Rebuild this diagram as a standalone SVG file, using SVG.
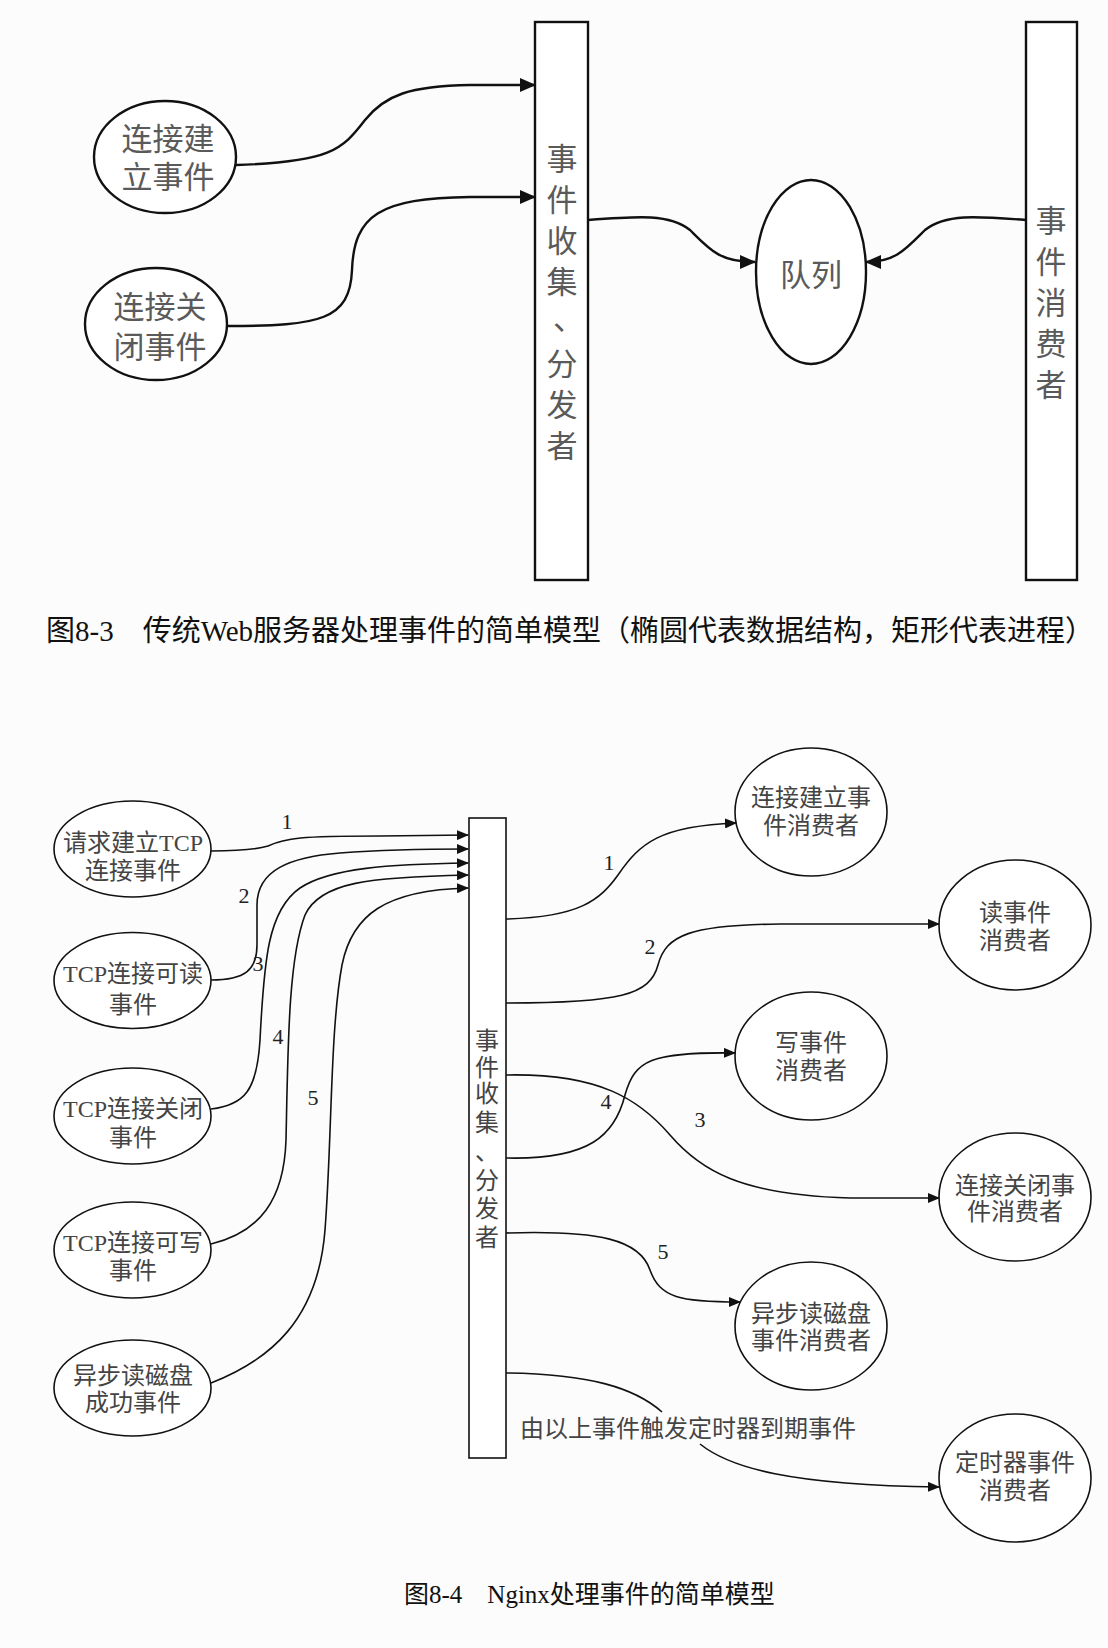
<svg xmlns="http://www.w3.org/2000/svg" width="1108" height="1648" viewBox="0 0 1108 1648">
<style>
.bg{fill:#fcfcfc}
.n1{fill:#fff;stroke:#111;stroke-width:2.4}
.n2{fill:#fff;stroke:#111;stroke-width:1.6}
.t1{font-family:"Liberation Serif","Noto Sans CJK SC",serif;font-size:31px;fill:#5a5a5a;text-anchor:middle}
.t2{font-family:"Liberation Serif","Noto Sans CJK SC",serif;font-size:24px;fill:#444;text-anchor:middle}
.lbl{font-family:"Liberation Serif","Noto Sans CJK SC",serif;font-size:22px;fill:#222;text-anchor:middle}
.cap{font-family:"Liberation Serif","Noto Sans CJK SC",serif;fill:#111}
.c1{fill:none;stroke:#111;stroke-width:2.4}
.c2{fill:none;stroke:#111;stroke-width:1.6}
</style>
<defs>
<marker id="ab" viewBox="0 0 16 14" markerWidth="16" markerHeight="14" refX="15" refY="7" orient="auto" markerUnits="userSpaceOnUse"><path d="M0,0 L16,7 L0,14 z" fill="#111"/></marker>
<marker id="as" viewBox="0 0 12 10" markerWidth="12" markerHeight="10" refX="11" refY="5" orient="auto" markerUnits="userSpaceOnUse"><path d="M0,0 L12,5 L0,10 z" fill="#111"/></marker>
</defs>
<rect class="bg" x="0" y="0" width="1108" height="1648"/>

<!-- Figure 8-3 -->
<g id="f3-connect">
<ellipse class="n1" cx="165" cy="157" rx="71" ry="56"/>
<text class="t1" x="168" y="150">连接建</text>
<text class="t1" x="168" y="188">立事件</text>
</g>
<g id="f3-close">
<ellipse class="n1" cx="156" cy="324" rx="71" ry="56"/>
<text class="t1" x="160" y="318">连接关</text>
<text class="t1" x="160" y="358">闭事件</text>
</g>
<g id="f3-collector">
<rect class="n1" x="535" y="22" width="53" height="558"/>
<text class="t1" x="562" y="170">事</text>
<text class="t1" x="562" y="211">件</text>
<text class="t1" x="562" y="252">收</text>
<text class="t1" x="562" y="293">集</text>
<text class="t1" x="562" y="330" style="text-anchor:start" dx="-9">、</text>
<text class="t1" x="562" y="375">分</text>
<text class="t1" x="562" y="416">发</text>
<text class="t1" x="562" y="457">者</text>
</g>
<g id="f3-queue">
<ellipse class="n1" cx="811" cy="272" rx="55" ry="92"/>
<text class="t1" x="811" y="286">队列</text>
</g>
<g id="f3-consumer">
<rect class="n1" x="1026" y="22" width="51" height="558"/>
<text class="t1" x="1051" y="232">事</text>
<text class="t1" x="1051" y="273">件</text>
<text class="t1" x="1051" y="314">消</text>
<text class="t1" x="1051" y="355">费</text>
<text class="t1" x="1051" y="396">者</text>
</g>
<g id="f3-connectors">
<path class="c1" marker-end="url(#ab)" d="M236,165 C330,162 342,150 365,120 C385,95 410,86 470,85 L535,85"/>
<path class="c1" marker-end="url(#ab)" d="M228,326 C320,326 350,320 352,270 C354,215 380,198 470,197 L535,197"/>
<path class="c1" marker-end="url(#ab)" d="M588,220 C640,216 670,214 690,230 C710,250 720,262 755,262"/>
<path class="c1" marker-end="url(#ab)" d="M1026,220 C975,216 945,214 925,230 C905,250 895,262 866,262"/>
</g>
<text class="cap" x="46" y="641" font-size="29">图8-3　传统Web服务器处理事件的简单模型（椭圆代表数据结构，矩形代表进程）</text>

<!-- Figure 8-4 -->
<g id="f4-src1">
<ellipse class="n2" cx="132.5" cy="849" rx="78.5" ry="48"/>
<text class="t2" x="133" y="851">请求建立TCP</text>
<text class="t2" x="133" y="879">连接事件</text>
</g>
<g id="f4-src2">
<ellipse class="n2" cx="132.5" cy="980.5" rx="78.5" ry="48"/>
<text class="t2" x="133" y="982">TCP连接可读</text>
<text class="t2" x="133" y="1013">事件</text>
</g>
<g id="f4-src3">
<ellipse class="n2" cx="132.5" cy="1116" rx="78.5" ry="48"/>
<text class="t2" x="133" y="1117">TCP连接关闭</text>
<text class="t2" x="133" y="1146">事件</text>
</g>
<g id="f4-src4">
<ellipse class="n2" cx="132.5" cy="1250" rx="78.5" ry="48"/>
<text class="t2" x="133" y="1251">TCP连接可写</text>
<text class="t2" x="133" y="1279">事件</text>
</g>
<g id="f4-src5">
<ellipse class="n2" cx="132.5" cy="1388" rx="78.5" ry="48"/>
<text class="t2" x="133" y="1384">异步读磁盘</text>
<text class="t2" x="133" y="1411">成功事件</text>
</g>
<g id="f4-collector">
<rect class="n2" x="469" y="818" width="37" height="640"/>
<text class="t2" x="487" y="1049">事</text>
<text class="t2" x="487" y="1076">件</text>
<text class="t2" x="487" y="1102">收</text>
<text class="t2" x="487" y="1131">集</text>
<text class="t2" x="475" y="1160" style="text-anchor:start">、</text>
<text class="t2" x="487" y="1189">分</text>
<text class="t2" x="487" y="1217">发</text>
<text class="t2" x="487" y="1246">者</text>
</g>
<g id="f4-c1">
<ellipse class="n2" cx="811" cy="812" rx="76" ry="64"/>
<text class="t2" x="811" y="806">连接建立事</text>
<text class="t2" x="811" y="834">件消费者</text>
</g>
<g id="f4-c2">
<ellipse class="n2" cx="1015" cy="925" rx="76" ry="65"/>
<text class="t2" x="1015" y="921">读事件</text>
<text class="t2" x="1015" y="949">消费者</text>
</g>
<g id="f4-c3">
<ellipse class="n2" cx="811" cy="1056" rx="76" ry="64"/>
<text class="t2" x="811" y="1051">写事件</text>
<text class="t2" x="811" y="1079">消费者</text>
</g>
<g id="f4-c4">
<ellipse class="n2" cx="1015" cy="1197" rx="76" ry="64"/>
<text class="t2" x="1015" y="1194">连接关闭事</text>
<text class="t2" x="1015" y="1220">件消费者</text>
</g>
<g id="f4-c5">
<ellipse class="n2" cx="811" cy="1326" rx="76" ry="64"/>
<text class="t2" x="811" y="1322">异步读磁盘</text>
<text class="t2" x="811" y="1349">事件消费者</text>
</g>
<g id="f4-c6">
<ellipse class="n2" cx="1015" cy="1478" rx="76" ry="64"/>
<text class="t2" x="1015" y="1471">定时器事件</text>
<text class="t2" x="1015" y="1499">消费者</text>
</g>
<g id="f4-connectors">
<path class="c2" marker-end="url(#as)" d="M211,851 C240,851 255,850 268,846 C285,838 300,836 380,836 L468,835"/>
<path class="c2" marker-end="url(#as)" d="M211,980 C245,980 257,970 257,945 L257,905 C257,870 290,857 340,853 C380,850 420,849 468,849"/>
<path class="c2" marker-end="url(#as)" d="M211,1109 C245,1105 257,1090 260,1040 C264,960 268,910 300,888 C330,868 390,864 468,863"/>
<path class="c2" marker-end="url(#as)" d="M211,1244 C260,1232 284,1200 286,1140 C288,1050 288,960 305,915 C320,882 370,877 468,875"/>
<path class="c2" marker-end="url(#as)" d="M211,1383 C270,1360 318,1320 325,1230 C332,1140 330,1030 342,965 C352,915 385,890 468,888"/>
<path class="c2" marker-end="url(#as)" d="M506,919 C580,917 600,900 618,875 C640,843 660,826 736,823"/>
<path class="c2" marker-end="url(#as)" d="M506,1003 C620,1003 650,995 658,965 C666,935 690,925 780,924 L939,924"/>
<path class="c2" marker-end="url(#as)" d="M506,1075 C600,1073 640,1100 670,1135 C700,1170 740,1195 850,1198 L939,1198"/>
<path class="c2" marker-end="url(#as)" d="M506,1158 C590,1160 615,1135 625,1095 C635,1060 650,1052 735,1053"/>
<path class="c2" marker-end="url(#as)" d="M506,1233 C600,1230 640,1240 650,1270 C660,1298 680,1302 740,1302"/>
<path class="c2" marker-end="url(#as)" d="M506,1373 C590,1374 635,1388 662,1412 M700,1444 C730,1468 790,1485 939,1487"/>
</g>
<g id="f4-labels">
<text class="lbl" x="287" y="829">1</text>
<text class="lbl" x="244" y="903">2</text>
<text class="lbl" x="258" y="971">3</text>
<text class="lbl" x="278" y="1044">4</text>
<text class="lbl" x="313" y="1105">5</text>
<text class="lbl" x="609" y="870">1</text>
<text class="lbl" x="650" y="954">2</text>
<text class="lbl" x="700" y="1127">3</text>
<text class="lbl" x="606" y="1109">4</text>
<text class="lbl" x="663" y="1259">5</text>
</g>
<text class="t2" x="520" y="1437" style="text-anchor:start">由以上事件触发定时器到期事件</text>
<text class="cap" x="404" y="1603" font-size="25">图8-4　Nginx处理事件的简单模型</text>
</svg>
